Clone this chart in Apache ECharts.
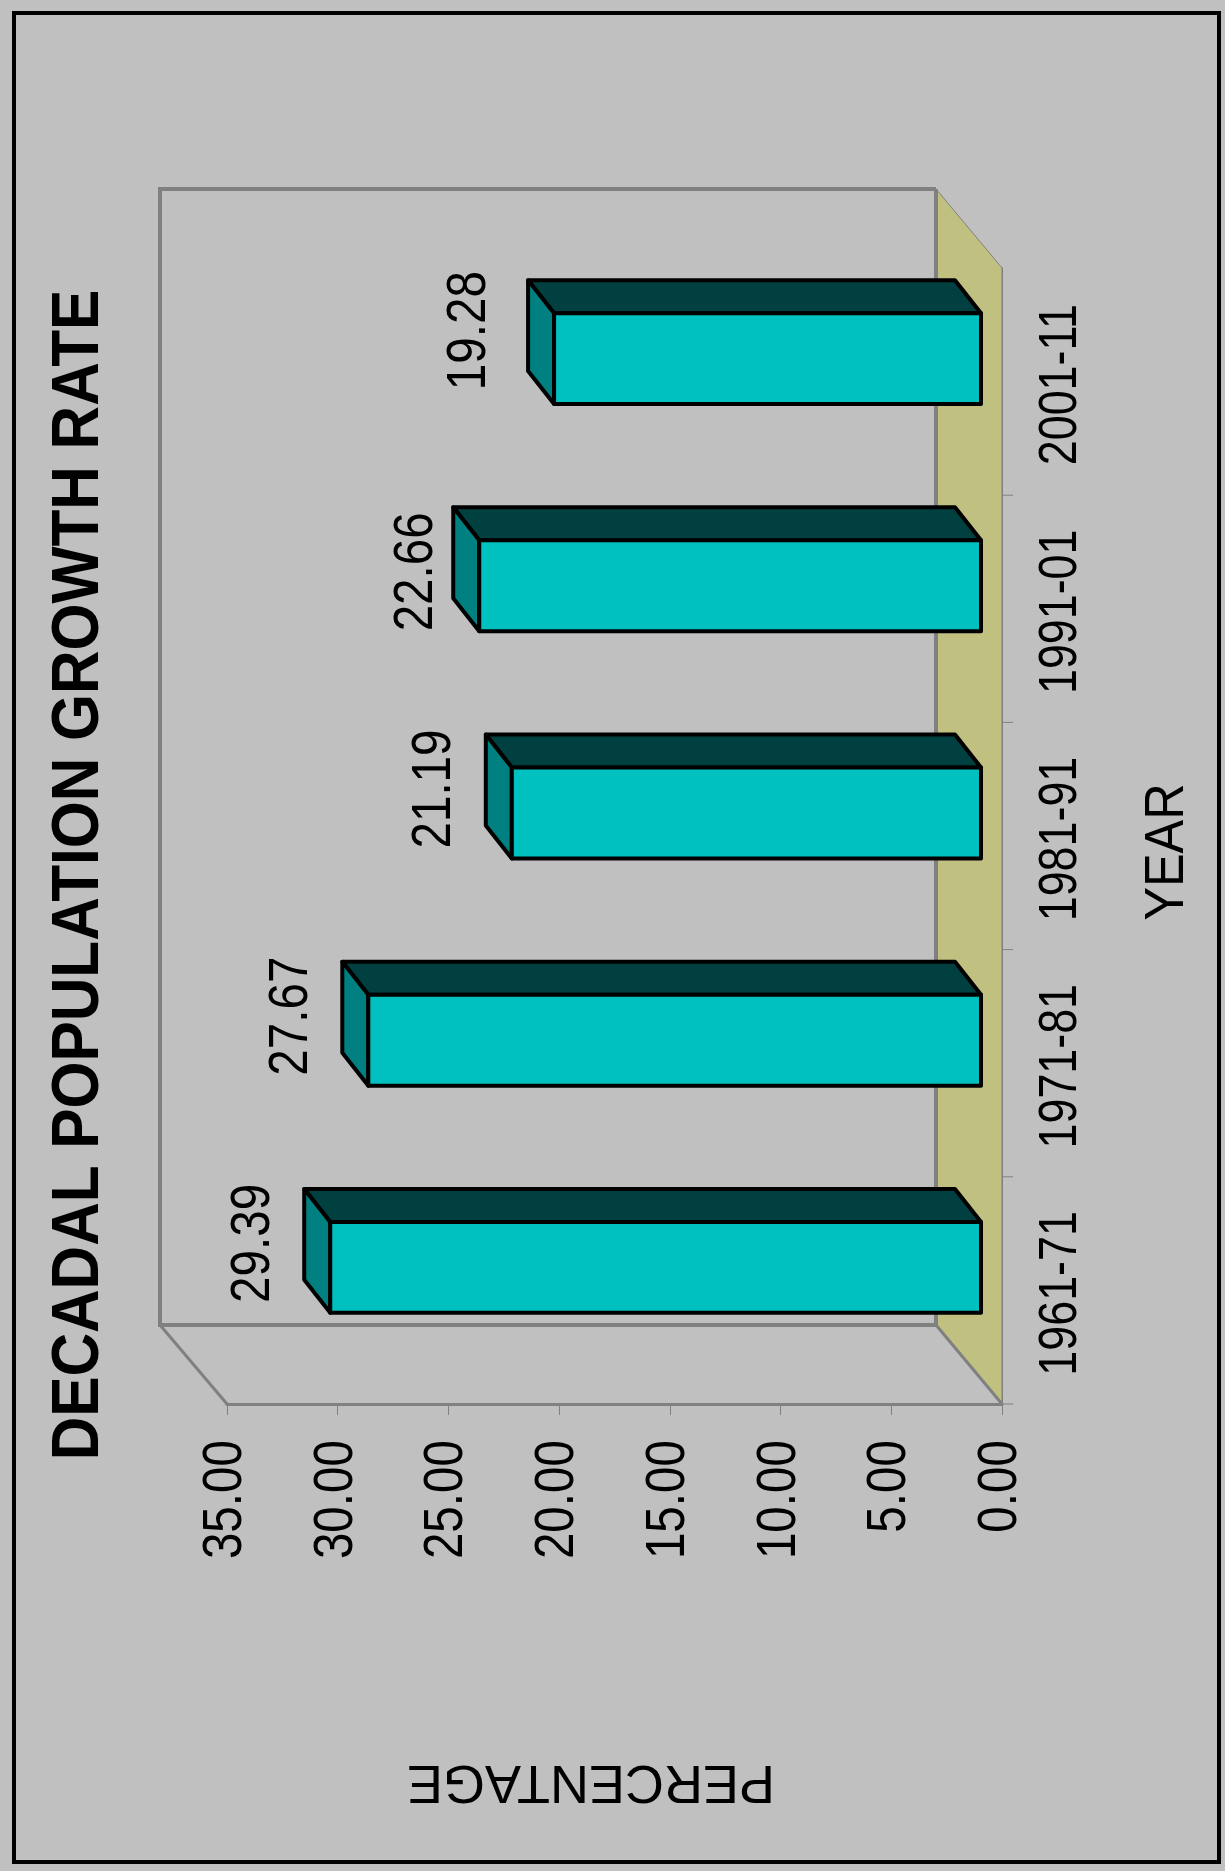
<!DOCTYPE html>
<html><head><meta charset="utf-8">
<style>html,body{margin:0;padding:0;background:#c0c0c0}#c{width:1225px;height:1871px}</style>
<script src="https://cdn.jsdelivr.net/npm/echarts@6/dist/echarts.min.js"></script>
</head><body><div id="c"></div>
<script>
const categories = ['1961-71','1971-81','1981-91','1991-01','2001-11'];
const growth = [29.39,27.67,21.19,22.66,19.28];
const valueTicks = [0,5,10,15,20,25,30,35];
const valueTickLabels = ['0.00','5.00','10.00','15.00','20.00','25.00','30.00','35.00'];
const titleText = 'DECADAL POPULATION GROWTH RATE';
const xName = 'YEAR';
const yName = 'PERCENTAGE';
const labelNudgeX = [0,0,0,14,-8];
const labelNudgeY = [0,0,0,10,-4];
const FONT = '"Liberation Sans",Arial,sans-serif';
const GREY = '#808080';
const WALL = [-66,-79];
const WALL_LEFT = -67;
const PLANE = [-21,-23];
const DEPTH = [-26,-33];
const BAND = 0.4;
const R90 = Math.PI/2;

function pts(a){return {points:a};}
function renderBox(params, api){
  const bw = api.size([0,1])[1];
  const c0 = api.coord([0,0]), c4 = api.coord([0,categories.length-1]), m = api.coord([35,0]);
  const ox = c0[0], oy = c0[1]+bw/2, ty = c4[1]-bw/2, mx = m[0];
  const bx = ox+WALL[0], by = oy+WALL[1], bt = ty+WALL[1], bl = mx+WALL_LEFT;
  const wall = {fill:'none',stroke:GREY,lineWidth:4,lineJoin:'miter'};
  const children = [
    {type:'polygon',shape:pts([[ox,oy],[ox,ty],[bx,bt],[bx,by]]),style:{fill:'#c0c080',stroke:GREY,lineWidth:1}},
    {type:'polyline',shape:pts([[bx,bt],[bl,bt],[bl,by],[bx,by],[bx,bt]]),style:wall},
    {type:'polyline',shape:pts([[bl,by],[mx,oy]]),style:{fill:'none',stroke:GREY,lineWidth:3}},
    {type:'polyline',shape:pts([[bx,by],[ox,oy]]),style:{fill:'none',stroke:GREY,lineWidth:3}}
  ];
  for(let i=0;i<categories.length;i++){
    const y = api.coord([0,i])[1]+bw/2;
    children.push({type:'line',shape:{x1:ox,y1:y,x2:ox+11,y2:y},style:{stroke:GREY,lineWidth:1}});
  }
  return {type:'group',children};
}
function renderBar(params, api){
  const v = api.value(0), c = api.value(1);
  const e = api.coord([v,c]), s = api.coord([0,c]);
  const h = api.size([0,1])[1]*BAND;
  const L = e[0]+PLANE[0], R = s[0]+PLANE[0], cy = e[1]+PLANE[1], T = cy-h/2, B = cy+h/2;
  const dx = DEPTH[0], dy = DEPTH[1];
  const st = {stroke:'#000',lineWidth:4,lineJoin:'round'};
  const lx = L+dx, ty = T+dy;
  return {type:'group',children:[
    {type:'polygon',shape:pts([[L,T],[R,T],[R+dx,ty],[lx,ty]]),style:Object.assign({fill:'#004040'},st)},
    {type:'polygon',shape:pts([[L,T],[L,B],[lx,B+dy],[lx,ty]]),style:Object.assign({fill:'#008080'},st)},
    {type:'rect',shape:{x:L,y:T,width:R-L,height:B-T},style:Object.assign({fill:'#00c0c0'},st)},
    {type:'text',x:lx-51+labelNudgeX[c],y:cy-24+labelNudgeY[c],rotation:R90,scaleX:0.85,
      style:{text:v.toFixed(2),font:'400 56px '+FONT,fill:'#000',align:'center',verticalAlign:'middle'}}
  ]};
}
function renderValueLabel(params, api){
  const i = params.dataIndex, p = api.coord([api.value(0),0]);
  const base = api.coord([0,0])[1]+api.size([0,1])[1]/2;
  return {type:'text',x:p[0]-1.5,y:base+36,rotation:R90,scaleX:0.85,
    style:{text:valueTickLabels[i],font:'400 56px '+FONT,fill:'#000',align:'right',verticalAlign:'middle'}};
}
function renderCatLabel(params, api){
  const c = api.value(1), p = api.coord([0,c]);
  return {type:'text',x:p[0]+59.5,y:p[1]+3,rotation:R90,scaleX:0.83,
    style:{text:categories[c],font:'400 54px '+FONT,fill:'#000',align:'center',verticalAlign:'middle'}};
}
const chart = echarts.init(document.getElementById('c'),null,{renderer:'canvas'});
chart.setOption({
  animation:false,
  backgroundColor:'#c0c0c0',
  grid:{left:227,width:775,top:268,height:1136,containLabel:false},
  xAxis:{type:'value',inverse:true,min:0,max:35,interval:5,position:'bottom',
    splitLine:{show:false},
    axisLine:{show:true,onZero:false,lineStyle:{color:GREY,width:3}},
    axisTick:{show:true,length:11,lineStyle:{color:GREY,width:1}},
    axisLabel:{show:false}},
  yAxis:{type:'category',data:categories,position:'right',
    axisLine:{show:true,onZero:false,lineStyle:{color:GREY,width:1}},
    axisTick:{show:false},
    axisLabel:{show:false}},
  series:[
    {type:'custom',coordinateSystem:'cartesian2d',clip:false,z:1,silent:true,data:[[0,0]],encode:{x:0,y:1},renderItem:renderBox},
    {type:'custom',coordinateSystem:'cartesian2d',clip:false,z:3,silent:true,data:growth.map((v,i)=>[v,i]),encode:{x:0,y:1},renderItem:renderBar},
    {type:'custom',coordinateSystem:'cartesian2d',clip:false,z:4,silent:true,data:valueTicks.map(v=>[v,0]),encode:{x:0,y:1},renderItem:renderValueLabel},
    {type:'custom',coordinateSystem:'cartesian2d',clip:false,z:4,silent:true,data:categories.map((c,i)=>[0,i]),encode:{x:0,y:1},renderItem:renderCatLabel}
  ],
  graphic:[
    {type:'rect',z:0,silent:true,shape:{x:14,y:13,width:1205,height:1849},style:{fill:'none',stroke:'#000',lineWidth:4}},
    {type:'text',x:79.5,y:875,rotation:R90,scaleX:0.914,style:{text:titleText,font:'700 66px '+FONT,fill:'#000',align:'center',verticalAlign:'middle'}},
    {type:'text',x:1168,y:852,rotation:R90,scaleX:0.9,style:{text:xName,font:'400 56px '+FONT,fill:'#000',align:'center',verticalAlign:'middle'}},
    {type:'text',x:591,y:1781,rotation:Math.PI,style:{text:yName,font:'400 54px '+FONT,fill:'#000',align:'center',verticalAlign:'middle'}}
  ]
});
</script></body></html>
